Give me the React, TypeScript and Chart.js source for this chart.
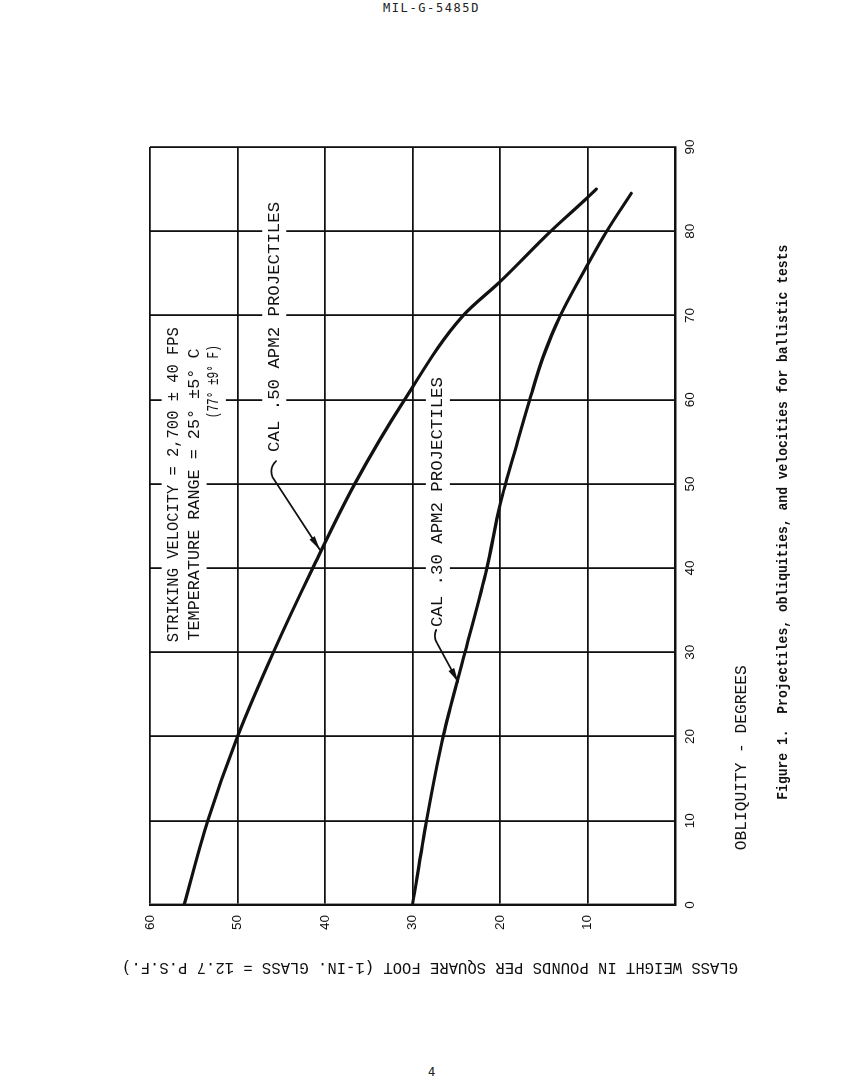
import React, { useEffect, useRef } from 'react';
import { Chart, registerables } from 'chart.js';

Chart.register(...registerables);

// ---- data ----
const obliquityCal50 = [0, 10, 20, 30, 40, 50, 60, 70, 74, 80, 84, 85];
const glassCal50 = [56.1, 53.4, 50.0, 45.9, 41.4, 36.6, 30.9, 24.2, 20.0, 14.2, 10.0, 9.0];

const obliquityCal30 = [0, 10, 20, 30, 40, 47.5, 55, 60, 65, 70, 76, 80, 84.5];
const glassCal30 = [30.0, 28.4, 26.5, 24.0, 21.5, 20.0, 18.0, 16.6, 15.1, 13.1, 10.0, 7.8, 5.0];

const obliquityTickLabels = [0, 10, 20, 30, 40, 50, 60, 70, 80, 90];
const glassTickLabels = [10, 20, 30, 40, 50, 60];

const noteTexts = [
  'STRIKING VELOCITY = 2,700 \u00B1 40 FPS',
  'TEMPERATURE RANGE = 25\u00B0 \u00B15\u00B0 C',
  '(77\u00B0 \u00B19\u00B0 F)',
  'CAL .50 APM2 PROJECTILES',
  'CAL .30 APM2 PROJECTILES',
];
const obliquityTitle = 'OBLIQUITY - DEGREES';
const glassTitle = 'GLASS WEIGHT IN POUNDS PER SQUARE FOOT (1-IN. GLASS = 12.7 P.S.F.)';
const captionText = 'Figure 1.  Projectiles, obliquities, and velocities for ballistic tests';
const headerText = 'MIL-G-5485D';
const pageNumber = '4';

// ---- annotation placement (data units: obl = obliquity, glass = weight) ----
const notePlacement = [
  { obl: 31.2, glass: 57.3, len: 315 },
  { obl: 31.4, glass: 54.9, len: 292 },
  { obl: 57.8, glass: 52.7, len: 73 },
  { obl: 53.8, glass: 45.8, len: 250 },
  { obl: 33.0, glass: 27.1, len: 250 },
];
const leaders = [
  { start: { obl: 52.7, glass: 45.6 }, ctrl: { obl: 51.9, glass: 46.4 }, bend: { obl: 50.8, glass: 46.0 }, tip: { obl: 42.2, glass: 40.6 } },
  { start: { obl: 32.65, glass: 27.3 }, ctrl: { obl: 31.8, glass: 27.65 }, bend: { obl: 31.1, glass: 27.2 }, tip: { obl: 26.5, glass: 24.8 } },
];

const INK = '#111';
const MONO = '"Liberation Mono", "DejaVu Sans Mono", monospace';

function drawFitted(ctx: CanvasRenderingContext2D, text: string, x: number, y: number, len: number, font: string, rotate = false) {
  ctx.save();
  ctx.font = font;
  const w = ctx.measureText(text).width;
  ctx.translate(x, y);
  if (rotate) ctx.rotate(-Math.PI / 2);
  ctx.scale(len / w, 1);
  ctx.textAlign = 'left';
  ctx.textBaseline = 'middle';
  ctx.fillStyle = INK;
  ctx.fillText(text, 0, 0);
  ctx.restore();
}

const annotationPlugin = {
  id: 'annotations',
  beforeDatasetsDraw(chart: any) {
    const { ctx, scales } = chart;
    const xs = scales.x, ys = scales.y;
    notePlacement.forEach((p, i) => {
      const px = xs.getPixelForValue(p.obl);
      const py = ys.getPixelForValue(p.glass);
      ctx.save();
      ctx.fillStyle = '#fff';
      ctx.fillRect(px - 5, py - 12, p.len + 10, 24);
      ctx.restore();
      drawFitted(ctx, noteTexts[i], px, py, p.len, `17px ${MONO}`);
    });
  },
  afterDatasetsDraw(chart: any) {
    const { ctx, scales } = chart;
    const xs = scales.x, ys = scales.y;
    const P = (pt: { obl: number; glass: number }) => [xs.getPixelForValue(pt.obl), ys.getPixelForValue(pt.glass)];
    leaders.forEach((l) => {
      const [sx, sy] = P(l.start);
      const [cx, cy] = P(l.ctrl);
      const [bx, by] = P(l.bend);
      const [tx, ty] = P(l.tip);
      ctx.save();
      ctx.strokeStyle = INK;
      ctx.lineWidth = 1.8;
      ctx.lineCap = 'round';
      ctx.beginPath();
      ctx.moveTo(sx, sy);
      ctx.quadraticCurveTo(cx, cy, bx, by);
      ctx.lineTo(tx, ty);
      ctx.stroke();
      // arrowhead
      const ang = Math.atan2(ty - by, tx - bx);
      const L = 14, W = 3.2;
      const baseX = tx - L * Math.cos(ang), baseY = ty - L * Math.sin(ang);
      ctx.fillStyle = INK;
      ctx.beginPath();
      ctx.moveTo(tx, ty);
      ctx.lineTo(baseX + W * Math.sin(ang), baseY - W * Math.cos(ang));
      ctx.lineTo(baseX - W * Math.sin(ang), baseY + W * Math.cos(ang));
      ctx.closePath();
      ctx.fill();
      ctx.restore();
    });
  },
  afterDraw(chart: any) {
    const { ctx, scales, chartArea } = chart;
    const xs = scales.x;
    // obliquity axis title (below the obliquity axis)
    drawFitted(ctx, obliquityTitle, xs.getPixelForValue(6.5), chartArea.bottom + 67, 185, `16px ${MONO}`);
    // caption
    drawFitted(ctx, captionText, xs.getPixelForValue(12.5), chartArea.bottom + 108, 555, `bold 15px ${MONO}`);
    // glass weight axis title (vertical, left of glass axis)
    drawFitted(ctx, glassTitle, chartArea.left - 62, chartArea.bottom + 63, 616, `16px ${MONO}`, true);
  },
};

export default function App() {
  const canvasRef = useRef<HTMLCanvasElement | null>(null);

  useEffect(() => {
    if (!canvasRef.current) return;
    const chart = new Chart(canvasRef.current, {
      type: 'line',
      data: {
        datasets: [
          {
            label: 'CAL .50 APM2',
            data: obliquityCal50.map((o, i) => ({ x: o, y: glassCal50[i] })),
            borderColor: INK,
            borderWidth: 3.2,
            pointRadius: 0,
            cubicInterpolationMode: 'monotone',
            borderCapStyle: 'round',
            fill: false,
          },
          {
            label: 'CAL .30 APM2',
            data: obliquityCal30.map((o, i) => ({ x: o, y: glassCal30[i] })),
            borderColor: INK,
            borderWidth: 3.2,
            pointRadius: 0,
            cubicInterpolationMode: 'monotone',
            borderCapStyle: 'round',
            fill: false,
          },
        ],
      },
      options: {
        animation: false,
        responsive: false,
        devicePixelRatio: 1,
        layout: { padding: { top: 50, right: 37, left: 0, bottom: 0 } },
        plugins: { legend: { display: false }, tooltip: { enabled: false }, title: { display: false } },
        scales: {
          x: {
            type: 'linear',
            min: 0,
            max: 90,
            afterFit: (s: any) => { s.height = 145; },
            ticks: {
              stepSize: 10,
              padding: 7,
              color: INK,
              maxRotation: 0,
              font: { family: '"Liberation Sans", Arial, sans-serif', size: 13.5 },
              callback: (v: any) => (obliquityTickLabels.includes(Number(v)) ? String(v) : ''),
            },
            grid: { color: INK, lineWidth: 1.8, drawTicks: false },
            border: { display: true, color: INK, width: 2.4 },
          },
          y: {
            type: 'linear',
            min: 0,
            max: 60,
            afterFit: (s: any) => { s.width = 125; },
            ticks: {
              stepSize: 10,
              padding: 10,
              color: INK,
              font: { family: '"Liberation Sans", Arial, sans-serif', size: 13.5 },
              callback: (v: any) => (glassTickLabels.includes(Number(v)) ? String(v) : ''),
            },
            grid: { color: INK, lineWidth: 1.8, drawTicks: false },
            border: { display: true, color: INK, width: 2.4 },
          },
        },
      },
      plugins: [annotationPlugin],
    } as any);
    return () => chart.destroy();
  }, []);

  return (
    <div style={{ position: 'absolute', left: 0, top: 0, width: 863, height: 1081, overflow: 'hidden', background: '#fff' }}>
      <div
        style={{
          position: 'absolute', left: 0, width: 863, top: 1, textAlign: 'center',
          fontFamily: '"DejaVu Sans Mono", monospace', fontSize: 12, letterSpacing: '1.6px', color: '#222',
        }}
      >
        {headerText}
      </div>
      <div
        style={{ position: 'absolute', left: 0, top: 210, width: 920, height: 720, transform: 'rotate(-90deg)' }}
      >
        <canvas ref={canvasRef} width={920} height={720} style={{ display: 'block' }} />
      </div>
      <div
        style={{
          position: 'absolute', left: 0, width: 863, top: 1065, textAlign: 'center',
          fontFamily: '"DejaVu Sans Mono", monospace', fontSize: 12, color: '#222',
        }}
      >
        {pageNumber}
      </div>
    </div>
  );
}
